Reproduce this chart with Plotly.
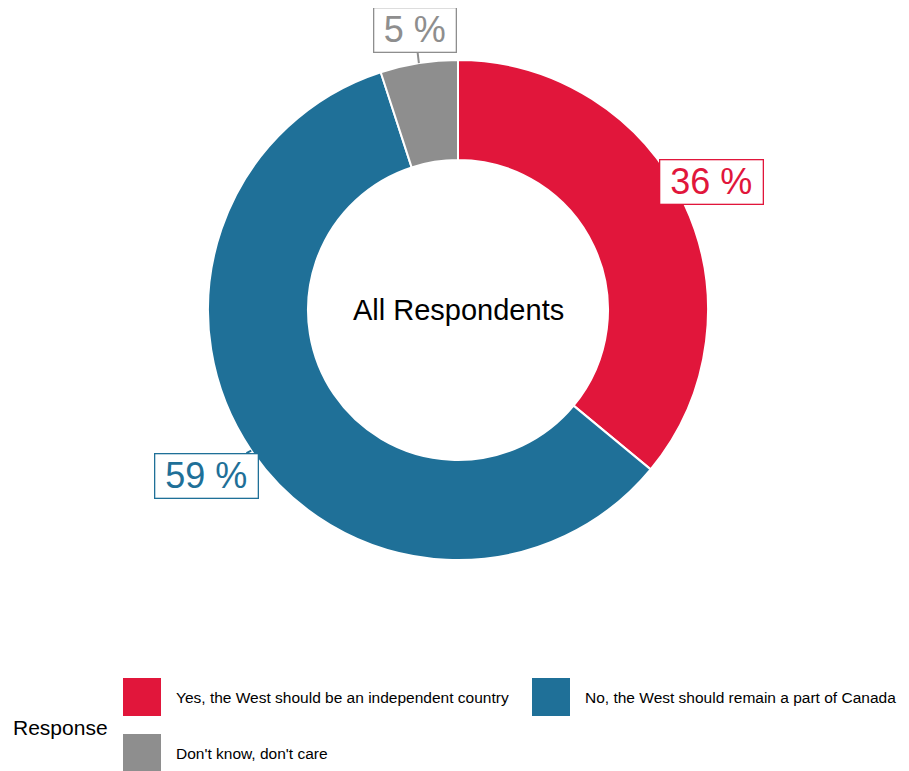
import math
import plotly.graph_objects as go

categories = ["Yes, the West should be an independent country",
              "No, the West should remain a part of Canada",
              "Don't know, don't care"]
values = [36, 59, 5]
labels_txt = ["36 %", "59 %", "5 %"]
colors = ["#E1163B", "#1F7098", "#8E8E8E"]

# page body has an 8px margin, so the figure is drawn 8px in
OFF = 8
W, H = 909 - OFF, 771 - OFF
cx, cy, R = 458 - OFF, 310 - OFF, 250


def px2x(px):
    return (px - OFF) / W


def py2y(py):
    return 1 - (py - OFF) / H


FONT = "Liberation Sans, Arial, sans-serif"

fig = go.Figure()
fig.add_trace(go.Pie(
    labels=categories, values=values, sort=False, direction="clockwise",
    rotation=0, hole=0.6, textinfo="none", hoverinfo="label+percent",
    marker=dict(colors=colors, line=dict(color="white", width=2)),
    domain=dict(x=[(cx - R) / W, (cx + R) / W], y=[1 - (cy + R) / H, 1 - (cy - R) / H]),
    showlegend=False,
))

annotations = []
# percentage labels, positioned at each slice's mid-angle
offsets = [(27, -22), (-45, 25), (-4, -33)]
box_w = [100, 100, 79]
total = sum(values)
cum = 0
for v, t, c, (ax, ay), bw in zip(values, labels_txt, colors, offsets, box_w):
    mid = (cum + v / 2) / total * 2 * math.pi
    cum += v
    px = cx + R * math.sin(mid)
    py = cy - R * math.cos(mid)
    annotations.append(dict(
        x=px / W, y=1 - py / H, xref="paper", yref="paper",
        text=t, showarrow=True, arrowhead=0, arrowwidth=2, arrowcolor=c,
        ax=ax, ay=ay, standoff=0, startstandoff=0,
        width=bw, height=41, align="center", valign="middle",
        font=dict(size=36, color=c, family=FONT),
        bgcolor="white", bordercolor=c, borderwidth=1.3, borderpad=1,
    ))

annotations.append(dict(
    x=cx / W, y=1 - cy / H, xref="paper", yref="paper", text="All Respondents",
    showarrow=False, font=dict(size=29, color="black", family=FONT),
))

# custom legend
shapes = []
legend_pos = [(123, 678), (532, 678), (123, 734)]
sw = 38
for cat, c, (lx, ly) in zip(categories, colors, legend_pos):
    shapes.append(dict(type="rect", xref="paper", yref="paper",
                       x0=px2x(lx), x1=px2x(lx + sw), y0=py2y(ly + sw), y1=py2y(ly),
                       fillcolor=c, line=dict(width=0)))
    annotations.append(dict(
        x=px2x(lx + sw + 13), y=py2y(ly + sw / 2), xref="paper", yref="paper",
        text=cat, showarrow=False, xanchor="left", yanchor="middle",
        font=dict(size=15.5, color="black", family=FONT),
    ))
annotations.append(dict(
    x=px2x(11), y=py2y(727), xref="paper", yref="paper", text="Response",
    showarrow=False, xanchor="left", yanchor="middle",
    font=dict(size=21, color="black", family=FONT),
))

fig.update_layout(
    width=W, height=H, margin=dict(l=0, r=0, t=0, b=0),
    paper_bgcolor="white", plot_bgcolor="white",
    annotations=annotations, shapes=shapes,
    font=dict(family=FONT),
)
fig.write_html("out.html")
